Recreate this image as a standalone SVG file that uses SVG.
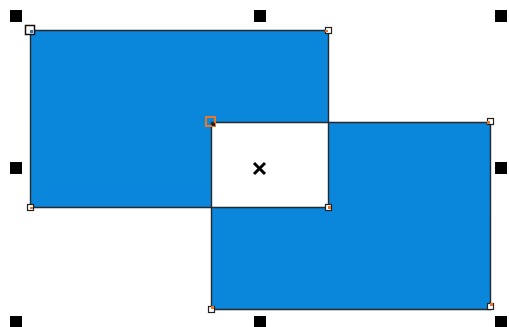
<svg xmlns="http://www.w3.org/2000/svg" width="509" height="327" viewBox="0 0 509 327">
<style>
.h{fill:#000}
.n{fill:#fff;stroke:#222;stroke-width:1.2}
.o{fill:#e8772a}
</style>
<rect width="509" height="327" fill="#fff"/>
<g id="shapes">
<path d="M30.5,30.5H328.5V207.5H30.5Z M211.5,122.5H490.5V309.5H211.5Z" fill="#0a86db" fill-rule="evenodd" stroke="#262a2e" stroke-width="1.4"/>
</g>
<g id="nodes">
<rect x="25.5" y="25.5" width="9" height="9" fill="#fff" stroke="#111" stroke-width="1.5"/>
<rect x="30" y="30" width="3" height="3" fill="#3a6fb0"/>
<rect x="325.5" y="27.5" width="6" height="6" class="n"/>
<rect x="325" y="30" width="3" height="2" class="o"/>
<rect x="27.5" y="204.5" width="6" height="6" class="n"/>
<rect x="30" y="207" width="3" height="2" class="o"/>
<rect x="325.5" y="204.5" width="6" height="6" class="n"/>
<rect x="328" y="206" width="3" height="3" class="o"/>
<rect x="206" y="117" width="9" height="9" fill="none" stroke="#e8772a" stroke-width="2"/>
<rect x="212" y="123" width="3" height="3" fill="#222"/>
<rect x="487.5" y="118.5" width="6" height="6" class="n"/>
<rect x="487" y="121" width="3" height="3" class="o"/>
<rect x="208.5" y="306.5" width="6" height="6" class="n"/>
<rect x="211" y="306" width="3" height="3" class="o"/>
<rect x="487.5" y="303.5" width="6" height="6" class="n"/>
<rect x="490" y="303" width="3" height="3" class="o"/>
</g>
<g id="handles">
<rect class="h" x="10" y="10" width="12" height="12"/>
<rect class="h" x="254" y="10" width="12" height="12"/>
<rect class="h" x="495" y="10" width="12" height="12"/>
<rect class="h" x="10" y="162" width="12" height="12"/>
<rect class="h" x="495" y="162" width="12" height="12"/>
<rect class="h" x="10" y="316" width="12" height="12"/>
<rect class="h" x="254" y="316" width="12" height="12"/>
<rect class="h" x="495" y="316" width="12" height="12"/>
</g>
<g id="center">
<path d="M254,163L265,174M265,163L254,174" stroke="#000" stroke-width="3"/>
</g>
</svg>
